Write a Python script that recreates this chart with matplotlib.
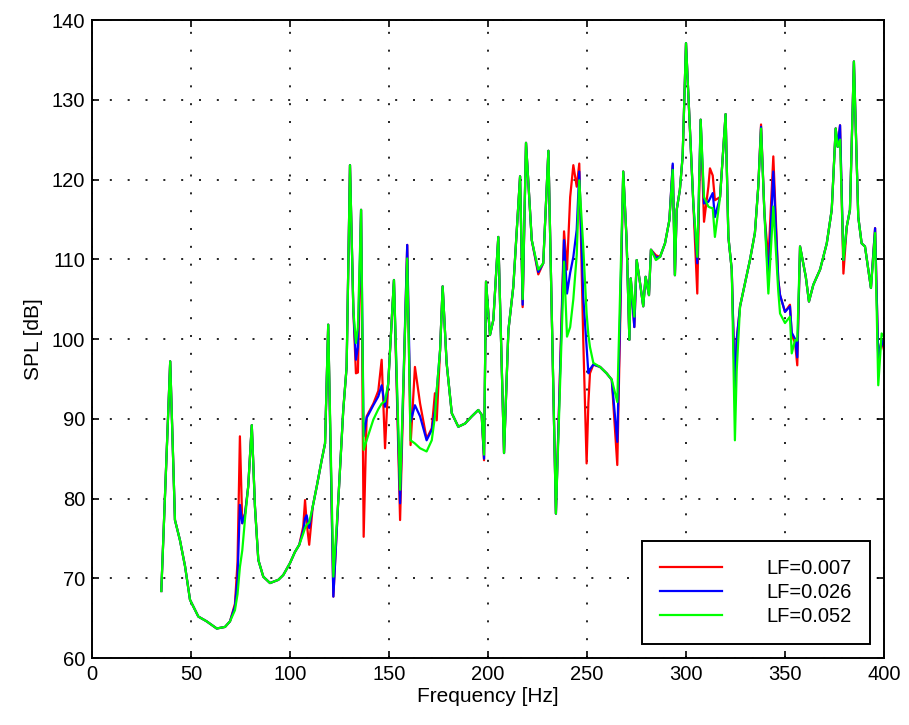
import matplotlib
matplotlib.use("Agg")
import matplotlib.pyplot as plt

plt.rcParams["font.family"] = ["Liberation Sans", "DejaVu Sans"]

# frequency grid [Hz] and SPL [dB] for the three loss factors
freq = [35.0, 39.5, 41.9, 44.4, 47.0, 49.5, 53.7, 57.9, 63.0, 67.2, 69.7, 72.2, 73.5, 74.7,
        75.9, 77.3, 78.9, 80.7, 82.3, 84.0, 86.5, 89.9, 94.1, 96.6, 100.0, 102.5, 104.7, 106.7,
        107.6, 108.4, 109.7, 111.5, 113.5, 116.0, 117.7, 119.3, 121.9, 124.4, 126.9, 128.6,
        130.3, 132.0, 133.3, 134.3, 135.9, 137.2, 138.7, 142.1, 144.6, 146.3, 148.0, 149.6,
        152.5, 155.6, 159.2, 160.9, 163.1, 165.7, 169.0, 171.6, 173.2, 174.1, 175.8, 177.1,
        179.1, 181.7, 185.0, 188.4, 191.8, 195.1, 196.8, 198.0, 199.0, 201.0, 202.7, 205.2,
        208.1, 210.3, 212.8, 216.2, 217.5, 219.2, 222.1, 225.4, 227.9, 230.5, 234.3, 238.4,
        239.9, 241.5, 243.1, 244.8, 246.1, 248.1, 249.8, 250.7, 251.5, 253.2, 256.6, 259.9,
        262.5, 265.3, 268.3, 270.0, 271.4, 272.1, 273.9, 275.1, 276.8, 278.4, 279.6, 281.3,
        282.3, 284.8, 286.9, 289.4, 291.6, 293.3, 294.4, 295.3, 296.9, 298.3, 300.0, 302.0,
        303.7, 305.7, 307.4, 309.1, 311.3, 312.1, 313.5, 314.6, 317.2, 320.0, 321.4, 323.1,
        324.7, 325.6, 327.3, 329.8, 332.3, 334.8, 336.5, 337.9, 339.6, 341.6, 344.1, 346.6,
        347.5, 350.0, 352.5, 353.4, 355.1, 356.2, 357.6, 360.5, 362.1, 364.3, 367.7, 371.1,
        373.6, 375.6, 376.6, 377.8, 379.5, 381.2, 382.8, 384.8, 387.0, 388.7, 390.4, 393.4,
        395.5, 397.1, 398.8, 400.0]

spl_lf007 = [68.4, 97.2, 77.3, 74.8, 71.5, 67.3, 65.2, 64.6, 63.7, 63.9, 64.6, 66.8, 72.0, 87.8,
             76.9, 78.1, 81.5, 89.2, 79.0, 72.3, 70.2, 69.4, 69.8, 70.4, 71.9, 73.3, 74.2, 76.5,
             79.8, 77.0, 74.2, 79.0, 81.5, 84.8, 86.9, 101.8, 67.7, 79.8, 91.1, 96.5,
             121.8, 103.6, 95.7, 95.8, 116.2, 75.2, 90.3, 91.9, 93.5, 97.4, 86.3, 94.4,
             107.4, 77.3, 111.8, 86.7, 96.5, 91.9, 87.5, 88.8, 93.2, 89.8, 98.6, 106.6,
             97.0, 90.7, 89.0, 89.4, 90.3, 91.1, 90.5, 84.8, 107.2, 100.5, 102.4, 112.8,
             85.7, 101.1, 106.6, 120.4, 104.0, 124.6, 112.4, 108.1, 109.5, 123.6, 78.1, 113.5,
             108.7, 117.8, 121.8, 119.1, 122.0, 100.0, 84.4, 92.0, 95.7, 96.8, 96.5, 95.7,
             94.9, 84.2, 121.0, 112.4, 99.9, 107.6, 101.5, 109.9, 107.0, 104.1, 107.8, 105.5,
             111.2, 110.5, 110.3, 112.0, 114.9, 121.8, 108.0, 116.2, 118.7, 122.9, 137.1, 126.2,
             117.0, 105.7, 127.5, 114.7, 119.1, 121.4, 120.5, 117.4, 117.8, 128.2, 112.8, 108.7,
             93.8, 99.9, 104.1, 107.0, 109.9, 113.3, 119.1, 126.9, 115.8, 109.9, 122.9, 107.4,
             105.5, 103.4, 104.3, 100.5, 99.5, 96.7, 111.6, 107.8, 104.7, 106.8, 108.7, 112.0,
             116.2, 126.4, 124.1, 126.8, 108.2, 114.1, 116.2, 134.8, 115.3, 112.0, 111.6, 106.4,
             113.9, 97.5, 99.9, 98.6]

spl_lf026 = [68.4, 97.2, 77.3, 74.8, 71.5, 67.3, 65.2, 64.6, 63.7, 63.9, 64.6, 66.5, 70.0, 79.2,
             76.9, 78.1, 81.5, 89.2, 79.0, 72.3, 70.2, 69.4, 69.8, 70.4, 71.9, 73.3, 74.2, 76.0,
             77.5, 77.9, 76.3, 79.0, 81.5, 84.8, 86.9, 101.8, 67.7, 79.8, 91.1, 96.5,
             121.8, 103.6, 97.4, 99.0, 116.2, 87.8, 90.1, 91.7, 92.8, 94.2, 91.5, 94.4,
             107.4, 79.4, 111.8, 89.6, 91.7, 90.3, 87.3, 88.6, 91.0, 93.5, 98.6, 106.6,
             97.0, 90.7, 89.0, 89.4, 90.3, 91.1, 90.5, 85.0, 107.2, 100.5, 102.4, 112.8,
             85.7, 101.1, 106.6, 120.4, 104.3, 124.6, 112.4, 108.4, 109.5, 123.6, 78.1, 112.4,
             105.7, 108.3, 110.3, 113.7, 121.0, 105.3, 99.0, 95.7, 96.2, 96.8, 96.5, 95.7,
             94.9, 87.1, 121.0, 112.4, 99.9, 107.6, 101.5, 109.9, 107.0, 104.1, 107.8, 105.5,
             111.2, 110.2, 110.3, 112.0, 114.9, 122.0, 108.0, 116.2, 118.7, 122.9, 137.1, 126.2,
             117.0, 109.5, 127.5, 117.0, 117.2, 117.6, 118.3, 115.3, 117.8, 128.2, 112.8, 108.7,
             93.6, 99.9, 104.1, 107.0, 109.9, 113.3, 119.1, 126.6, 115.8, 107.4, 121.0, 107.4,
             105.5, 103.4, 104.1, 100.8, 100.0, 97.7, 111.6, 107.8, 104.7, 106.8, 108.7, 112.0,
             116.2, 126.4, 124.1, 126.8, 109.9, 114.1, 116.2, 134.8, 115.3, 112.0, 111.6, 106.4,
             113.9, 97.5, 99.9, 99.0]

spl_lf052 = [68.4, 97.2, 77.3, 74.8, 71.5, 67.3, 65.2, 64.6, 63.7, 63.9, 64.6, 66.0, 68.0, 71.4,
             73.5, 77.5, 81.5, 89.2, 79.0, 72.3, 70.2, 69.4, 69.8, 70.4, 71.9, 73.3, 74.2, 75.6,
             76.3, 76.7, 77.0, 79.0, 81.5, 84.8, 86.9, 101.8, 70.2, 79.8, 91.1, 96.5,
             121.8, 103.6, 99.5, 101.5, 116.2, 86.1, 87.3, 89.9, 91.2, 91.9, 92.2, 94.4,
             107.4, 81.1, 110.1, 87.3, 86.9, 86.3, 85.9, 87.3, 90.3, 93.5, 98.6, 106.6,
             97.0, 90.7, 89.0, 89.4, 90.3, 91.1, 90.5, 85.5, 107.2, 100.5, 102.4, 112.8,
             85.7, 101.1, 106.6, 120.4, 105.0, 124.6, 112.4, 108.7, 109.5, 123.6, 78.1, 109.7,
             100.3, 101.5, 105.0, 110.5, 119.9, 111.6, 103.2, 100.5, 99.0, 97.0, 96.5, 95.7,
             94.9, 92.1, 121.0, 112.4, 99.9, 107.6, 102.8, 109.9, 107.0, 104.1, 107.8, 105.5,
             111.2, 109.9, 110.3, 112.0, 114.9, 121.2, 108.0, 116.2, 118.7, 122.9, 137.1, 126.2,
             117.0, 110.3, 127.5, 117.8, 116.6, 116.5, 116.4, 112.8, 117.8, 128.2, 112.8, 108.7,
             87.3, 96.0, 104.1, 107.0, 109.9, 113.3, 119.1, 126.4, 115.8, 105.7, 116.6, 106.0,
             103.2, 102.0, 102.8, 98.2, 99.9, 99.8, 111.6, 107.8, 104.7, 106.8, 108.7, 112.0,
             116.2, 126.4, 124.1, 125.0, 109.9, 114.1, 116.2, 134.8, 115.3, 112.0, 111.6, 106.4,
             113.3, 94.2, 100.7, 100.3]

labels = ["LF=0.007", "LF=0.026", "LF=0.052"]
colors = ["#ff0000", "#0000ff", "#00ff00"]

fig = plt.figure(figsize=(9.09, 7.25), dpi=100)
ax = fig.add_axes([0.1012, 0.0924, 0.8713, 0.88])

for spl, lab, col in zip([spl_lf007, spl_lf026, spl_lf052], labels, colors):
    ax.plot(freq, spl, color=col, lw=1.6, label=lab)

ax.set_xlim(0, 400)
ax.set_ylim(60, 140)
ax.set_xticks(range(0, 401, 50))
ax.set_yticks(range(60, 141, 10))
ax.grid(True, color="black", lw=1.2, linestyle=(0, (1.2, 9.5)))
ax.tick_params(direction="in", length=5, width=1.2, top=True, right=True,
               labelsize=14.5, pad=5)
for sp in ax.spines.values():
    sp.set_linewidth(1.4)

ax.set_xlabel("Frequency [Hz]", fontsize=15, labelpad=2)
ax.set_ylabel("SPL [dB]", fontsize=15, labelpad=6)

leg = ax.legend(loc="lower right", fontsize=14.5, handlelength=3.1, handletextpad=2.2,
                borderaxespad=0.7, borderpad=0.9, labelspacing=0.25, fancybox=False,
                edgecolor="black", framealpha=1)
leg.get_frame().set_linewidth(1.4)

fig.savefig("out.png", dpi=100)
